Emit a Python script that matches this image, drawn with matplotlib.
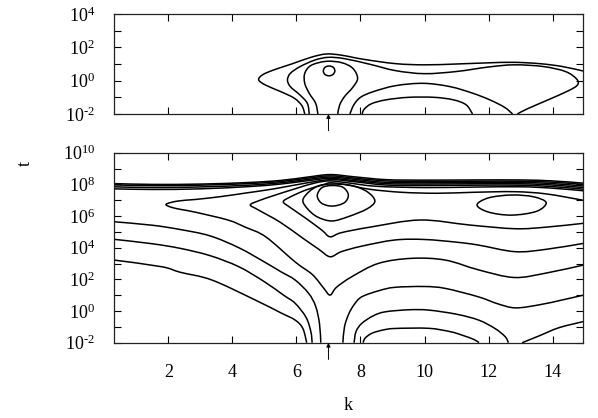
import numpy as np
import matplotlib
matplotlib.use("Agg")
import matplotlib.pyplot as plt
from matplotlib.path import Path
from matplotlib.patches import PathPatch
from matplotlib.ticker import FixedLocator, NullFormatter

plt.rcParams['font.family'] = ['Liberation Serif', 'DejaVu Serif']
plt.rcParams['mathtext.fontset'] = 'custom'
plt.rcParams['mathtext.rm'] = 'Liberation Serif'
plt.rcParams['mathtext.it'] = 'Liberation Serif:italic'
plt.rcParams['mathtext.default'] = 'regular'

# ---------------- data: contour curves (k, log10 t) ----------------
arrow_k = 7.0
k_ticks = [2, 4, 6, 8, 10, 12, 14]
k_lim = (0.31, 14.95)
top_ylim_exp = (-2, 4)
bot_ylim_exp = (-2, 10)

# top panel
top_a_k = [6.26, 6.17, 5.93, 5.50, 5.04, 4.82, 4.95, 5.30, 5.85, 6.45, 6.93, 7.40, 8.10, 9.10, 10.0, 11.0, 12.0, 12.8, 13.6, 14.3, 14.95]
top_a_e = [-2.0, -1.5, -1.05, -0.65, -0.27, 0.05, 0.36, 0.65, 1.0, 1.4, 1.6, 1.53, 1.28, 1.02, 0.95, 1.0, 1.07, 1.1, 1.02, 0.85, 0.58]
top_b_k = [6.40, 6.34, 6.11, 5.81, 5.72, 5.81, 6.11, 6.58, 7.0, 7.5, 8.3, 9.1, 10.0, 11.0, 12.0, 12.8, 13.7, 14.4, 14.75, 14.78, 14.5, 13.8, 13.2, 12.9]
top_b_e = [-2.0, -1.36, -0.86, -0.36, 0.04, 0.44, 0.84, 1.24, 1.4, 1.32, 0.98, 0.6, 0.42, 0.55, 0.82, 0.95, 0.85, 0.55, 0.1, -0.25, -0.6, -1.2, -1.7, -2.0]
top_c_k = [6.67, 6.60, 6.40, 6.26, 6.26, 6.46, 6.93, 7.41, 7.76, 7.91, 7.76, 7.50, 7.35, 7.29]
top_c_e = [-2.0, -1.36, -0.76, -0.16, 0.44, 0.92, 1.16, 1.08, 0.74, 0.14, -0.4, -0.96, -1.46, -2.0]
top_d_k = [7.02, 7.15, 7.20, 7.14, 7.02, 6.89, 6.84, 6.89]
top_d_e = [0.88, 0.80, 0.58, 0.37, 0.29, 0.37, 0.58, 0.80]
top_e_k = [7.67, 7.79, 8.0, 8.4, 9.1, 9.97, 10.8, 11.5, 12.05, 12.5, 12.75]
top_e_e = [-2.0, -1.46, -1.0, -0.66, -0.3, -0.16, -0.36, -0.75, -1.16, -1.6, -2.0]
top_f_k = [8.05, 8.12, 8.35, 8.8, 9.5, 10.3, 10.9, 11.3, 11.5]
top_f_e = [-2.0, -1.7, -1.38, -1.15, -1.0, -1.0, -1.15, -1.45, -2.0]

# bottom panel: bundle of lines near 1e8
bund_k = [0.31, 1.5, 3.0, 4.5, 5.5, 6.3, 7.05, 7.8, 8.8, 10.0, 11.5, 13.0, 14.0, 14.95]
bund1_e = [8.05, 8.0, 8.02, 8.12, 8.25, 8.45, 8.62, 8.48, 8.3, 8.27, 8.28, 8.28, 8.22, 8.08]
bund2_e = [7.97, 7.92, 7.95, 8.05, 8.18, 8.38, 8.54, 8.4, 8.22, 8.18, 8.2, 8.2, 8.14, 8.0]
bund3_e = [7.85, 7.8, 7.84, 7.95, 8.1, 8.3, 8.46, 8.32, 8.13, 8.1, 8.12, 8.12, 8.05, 7.9]
bund4_e = [7.72, 7.68, 7.72, 7.86, 8.02, 8.22, 8.38, 8.24, 8.05, 8.02, 8.04, 8.04, 7.96, 7.8]

# closed loops
loop1_k = [7.12, 7.45, 7.62, 7.50, 7.12, 6.78, 6.65, 6.80]
loop1_e = [7.93, 7.82, 7.35, 6.85, 6.63, 6.82, 7.30, 7.80]
loop2_k = [7.10, 7.70, 8.20, 8.45, 8.20, 7.60, 7.10, 6.65, 6.35, 6.20, 6.40, 6.70]
loop2_e = [8.02, 7.94, 7.55, 6.95, 6.45, 5.95, 5.69, 5.95, 6.45, 7.00, 7.55, 7.92]
loop3_k = [12.72, 13.40, 13.80, 13.50, 12.72, 12.00, 11.64, 12.00]
loop3_e = [7.33, 7.22, 6.85, 6.30, 6.06, 6.25, 6.70, 7.15]

# curves with a tip on the left and a V at k=7
tipA_k = [14.95, 13.8, 12.8, 11.5, 10.4, 9.3, 8.3, 7.5, 7.05, 6.8, 6.3, 5.8, 5.59, 5.8, 6.3, 6.8, 7.05, 7.4, 8.3, 9.86, 11.43, 12.83, 13.8, 14.95]
tipA_e = [7.0, 7.4, 7.54, 7.5, 7.44, 7.5, 7.69, 8.0, 8.1, 7.95, 7.65, 7.2, 6.9, 6.55, 5.85, 5.1, 4.69, 4.95, 5.3, 5.75, 5.43, 5.2, 5.3, 5.54]
tipB_k = [14.95, 14.0, 13.0, 11.5, 10.0, 8.5, 7.6, 7.05, 6.6, 6.0, 5.3, 4.8, 4.56, 4.8, 5.5, 6.2, 6.7, 7.05, 7.4, 8.04, 9.08, 10.0, 11.0, 11.68, 12.83, 13.8, 14.95]
tipB_e = [7.6, 7.76, 7.85, 7.83, 7.8, 7.88, 8.1, 8.22, 8.1, 7.75, 7.3, 6.95, 6.7, 6.4, 5.6, 4.6, 3.9, 3.43, 3.75, 4.1, 4.49, 4.52, 4.35, 4.17, 3.75, 3.9, 4.27]
tipC_k = [14.95, 14.0, 13.0, 11.5, 10.0, 8.8, 7.8, 7.05, 6.2, 5.3, 4.4, 3.6, 2.85, 2.3, 1.93, 2.1, 2.44, 2.83, 3.86, 4.4, 5.04, 5.96, 6.5, 6.85, 7.05, 7.25, 7.73, 8.56, 9.6, 10.65, 11.69, 12.8, 13.8, 14.95]
tipC_e = [7.7, 7.86, 7.95, 7.95, 7.93, 7.96, 8.17, 8.3, 8.05, 7.72, 7.45, 7.22, 7.05, 6.95, 6.75, 6.55, 6.4, 6.25, 5.75, 5.3, 4.69, 3.1, 2.3, 1.45, 1.01, 1.5, 2.17, 3.01, 3.33, 3.22, 2.6, 2.12, 2.4, 2.9]

# lines from the left edge down to the bottom
left1_k = [0.31, 1.5, 2.37, 3.3, 4.2, 5.0, 5.5, 5.96, 6.38, 6.6, 6.72, 6.76]
left1_e = [5.64, 5.42, 5.15, 4.75, 4.0, 3.1, 2.5, 1.96, 1.12, 0.3, -0.8, -2.0]
left2_k = [0.31, 1.5, 2.37, 3.3, 4.2, 5.0, 5.6, 5.96, 6.3, 6.45, 6.49]
left2_e = [4.53, 4.25, 3.96, 3.5, 2.8, 1.85, 1.0, 0.49, -0.4, -1.3, -2.0]
left3_k = [0.31, 1.79, 2.37, 3.36, 4.71, 5.5, 5.96, 6.2, 6.32]
left3_e = [3.22, 2.8, 2.45, 1.96, 0.7, -0.1, -0.57, -1.1, -2.0]

# lines rising from the bottom on the right of k=7
right1_k = [7.45, 7.5, 7.63, 7.8, 8.04, 8.6, 9.08, 10.0, 10.65, 11.68, 12.3, 12.85, 13.6, 14.3, 14.95]
right1_e = [-2.0, -1.0, -0.2, 0.4, 0.9, 1.3, 1.5, 1.55, 1.43, 0.9, 0.45, 0.2, 0.4, 0.7, 1.0]
right2_k = [7.8, 7.86, 8.04, 8.4, 8.77, 9.5, 10.13, 11.0, 11.69, 12.2, 12.52, 12.62]
right2_e = [-2.0, -1.3, -0.78, -0.3, -0.05, 0.08, 0.06, -0.2, -0.57, -1.1, -1.62, -2.0]
right3_k = [8.08, 8.15, 8.36, 8.7, 9.08, 10.13, 10.8, 11.17, 11.55, 11.7]
right3_e = [-2.0, -1.7, -1.4, -1.2, -1.1, -1.09, -1.3, -1.52, -1.8, -2.0]
right4_k = [13.05, 13.6, 14.2, 14.95]
right4_e = [-2.0, -1.55, -1.05, -0.67]


def curve_path(ks, es, closed=False):
    """Smooth Catmull-Rom path through the read points, in (k, log10 t)."""
    P = np.column_stack([ks, es]).astype(float)
    if closed:
        E = np.vstack([P[-1], P, P[0], P[1]])
        nseg = len(P)
    else:
        E = np.vstack([P[0], P, P[-1]])
        nseg = len(P) - 1
    verts = [E[1]]
    codes = [Path.MOVETO]
    for i in range(nseg):
        p0, p1, p2, p3 = E[i], E[i + 1], E[i + 2], E[i + 3]
        verts += [p1 + (p2 - p0) / 6.0, p2 - (p3 - p1) / 6.0, p2]
        codes += [Path.CURVE4] * 3
    V = np.array(verts)
    V[:, 1] = 10.0 ** V[:, 1]
    return Path(V, codes)


def draw(ax, ks, es, closed=False):
    ax.add_patch(PathPatch(curve_path(ks, es, closed), fill=False,
                           ec='black', lw=1.1, transform=ax.transData))


def exp_label(e):
    s = str(e).replace('-', r'\text{-}')
    return r'$\mathregular{10^{%s}}$' % s


def style(ax, ylim_exp, labels):
    ax.set_yscale('log')
    ax.set_xlim(*k_lim)
    ax.set_ylim(10.0 ** ylim_exp[0], 10.0 ** ylim_exp[1])
    exps = list(range(ylim_exp[0], ylim_exp[1] + 1, 2))
    ax.yaxis.set_major_locator(FixedLocator([10.0 ** e for e in exps]))
    ax.yaxis.set_minor_locator(FixedLocator([10.0 ** e for e in range(ylim_exp[0] + 1, ylim_exp[1], 2)]))
    ax.yaxis.set_minor_formatter(NullFormatter())
    ax.set_yticklabels([exp_label(e) for e in exps])
    ax.set_xticks(k_ticks)
    if labels:
        ax.set_xticklabels([str(v) for v in k_ticks])
    else:
        ax.set_xticklabels([])
    ax.tick_params(which='both', direction='in', top=True, right=True,
                   length=5, width=0.8, labelsize=13)
    ax.tick_params(axis='y', pad=14)
    ax.tick_params(axis='x', pad=15)
    for s in ax.spines.values():
        s.set_linewidth(0.9)
        s.set_color('#222222')
    ax.annotate('', xy=(arrow_k, 0.0), xycoords=('data', 'axes fraction'),
                xytext=(0, -12), textcoords='offset points',
                arrowprops=dict(arrowstyle='-|>', lw=0.7, color='black',
                                mutation_scale=6, shrinkA=0, shrinkB=0))


fig = plt.figure(figsize=(5.98, 4.18), dpi=100)
ax1 = fig.add_axes([0.1911, 0.7273, 0.7838, 0.2392])
ax2 = fig.add_axes([0.1911, 0.1801, 0.7838, 0.4545])

style(ax1, top_ylim_exp, False)
style(ax2, bot_ylim_exp, True)

for ks, es in [(top_a_k, top_a_e), (top_b_k, top_b_e), (top_c_k, top_c_e),
               (top_e_k, top_e_e), (top_f_k, top_f_e)]:
    draw(ax1, ks, es)
draw(ax1, top_d_k, top_d_e, closed=True)

for es in [bund1_e, bund2_e, bund3_e, bund4_e]:
    draw(ax2, bund_k, es)
for ks, es in [(loop1_k, loop1_e), (loop2_k, loop2_e), (loop3_k, loop3_e)]:
    draw(ax2, ks, es, closed=True)
for ks, es in [(tipA_k, tipA_e), (tipB_k, tipB_e), (tipC_k, tipC_e),
               (left1_k, left1_e), (left2_k, left2_e), (left3_k, left3_e),
               (right1_k, right1_e), (right2_k, right2_e), (right3_k, right3_e),
               (right4_k, right4_e)]:
    draw(ax2, ks, es)

ax2.set_xlabel('k', fontsize=13, labelpad=12)
fig.text(25 / 598, 1 - 163 / 418, 't', rotation=90, fontsize=13,
         ha='center', va='center')

fig.savefig('out.png', dpi=100)
